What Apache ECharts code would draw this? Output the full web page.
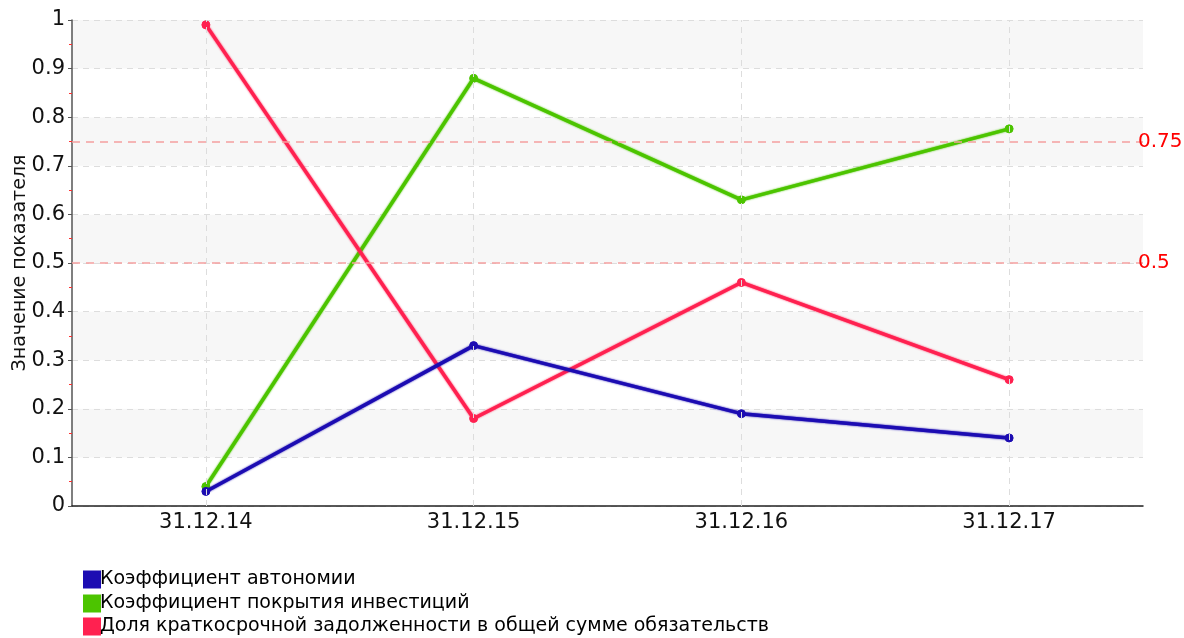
<!DOCTYPE html>
<html>
<head>
<meta charset="utf-8">
<script src="https://cdn.jsdelivr.net/npm/echarts@6/dist/echarts.min.js"></script>
<style>html,body{margin:0;padding:0;background:#fff}#c{width:1184px;height:638px}</style>
</head>
<body>
<div id="c"></div>
<script>
const categories = ['31.12.14', '31.12.15', '31.12.16', '31.12.17'];
const seriesNames = ['Коэффициент автономии', 'Коэффициент покрытия инвестиций', 'Доля краткосрочной задолженности в общей сумме обязательств'];
const autonomy = [0.03, 0.33, 0.19, 0.14];
const investCoverage = [0.04, 0.88, 0.63, 0.776];
const shortDebtShare = [0.99, 0.18, 0.46, 0.26];
const thresholds = [0.75, 0.5];
const yTicks = [0, 0.1, 0.2, 0.3, 0.4, 0.5, 0.6, 0.7, 0.8, 0.9, 1];
const colors = ['#1c0cb2', '#4cc400', '#ff2150'];
const FONT = 'DejaVu Sans';

const chart = echarts.init(document.getElementById('c'));
function mk(name, data, color, extra) {
  return Object.assign({
    name, type: 'line', data,
    symbol: 'circle', symbolSize: 8,
    lineStyle: { width: 3.5, color, shadowColor: color, shadowBlur: 2 },
    itemStyle: { color, borderColor: color, borderWidth: 1 },
    emphasis: { disabled: true },
    z: 3
  }, extra || {});
}
const legendTops = [570, 594, 617];
chart.setOption({
  animation: false,
  textStyle: { fontFamily: FONT },
  grid: { left: 72, right: 41, top: 20, bottom: 132, containLabel: false, outerBoundsMode: 'none' },
  legend: seriesNames.map((n, i) => ({
    orient: 'vertical', left: 83, top: legendTops[i], padding: 0,
    itemWidth: 16, itemHeight: 16, icon: 'rect',
    textStyle: { fontSize: 19, color: '#000', fontFamily: FONT, padding: [0, 0, 0, -5] },
    data: [n]
  })),
  xAxis: {
    type: 'category', data: categories, boundaryGap: true,
    axisLine: { lineStyle: { color: '#222', width: 1.5 } },
    axisTick: { alignWithLabel: true, length: 5, lineStyle: { color: '#888' } },
    axisLabel: { fontSize: 21, color: '#111', margin: 6, fontFamily: FONT },
    splitLine: { show: false }
  },
  yAxis: {
    type: 'value', min: 0, max: 1, interval: 0.1,
    name: 'Значение показателя', nameLocation: 'middle', nameGap: 42, nameMoveOverlap: false,
    nameTextStyle: { fontSize: 19, color: '#111', fontFamily: FONT },
    axisLine: { show: true, lineStyle: { color: '#555', width: 1.5 } },
    axisTick: { show: true, length: 4, lineStyle: { color: '#555' } },
    minorTick: { show: true, splitNumber: 2, length: 3, lineStyle: { color: '#ff3030' } },
    axisLabel: { fontSize: 21, color: '#111', margin: 7, fontFamily: FONT,
      formatter: v => String(Math.round(v * 10) / 10) },
    splitLine: { show: true, lineStyle: { color: '#dddddd', type: [6, 5] } },
    splitArea: { show: true, areaStyle: { color: ['#ffffff', '#f7f7f7'] } }
  },
  series: [
    mk(seriesNames[0], autonomy, colors[0], {
      markLine: {
        silent: true, symbol: 'none', animation: false,
        lineStyle: { color: '#dddddd', type: [6, 5], width: 1 },
        label: { show: false },
        data: categories.map(c => ({ xAxis: c }))
      },
      z: 4
    }),
    mk(seriesNames[1], investCoverage, colors[1], {
      markLine: {
        silent: true, symbol: 'none', animation: false,
        lineStyle: { color: '#f5a0a0', type: [8, 6], width: 1.5 },
        label: { show: true, position: 'end', distance: -5, color: '#ff0000', fontSize: 20, fontFamily: FONT,
          formatter: p => String(p.value) },
        data: thresholds.map(t => ({ yAxis: t }))
      }
    }),
    mk(seriesNames[2], shortDebtShare, colors[2])
  ]
});
</script>
</body>
</html>
